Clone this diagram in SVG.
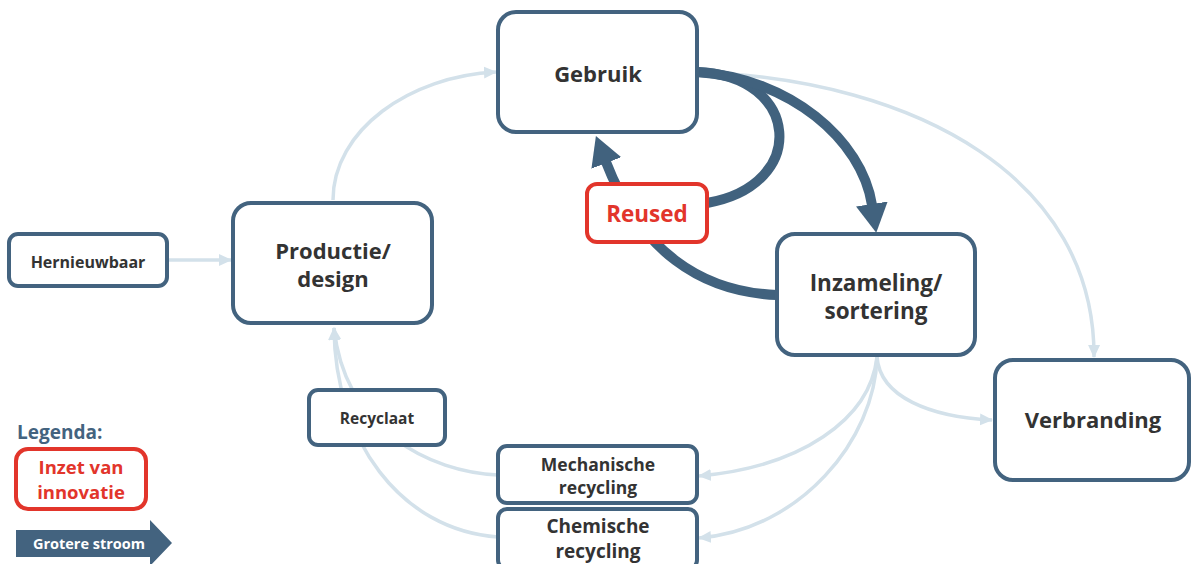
<svg xmlns="http://www.w3.org/2000/svg" width="1191" height="564" viewBox="0 0 1191 564">
<style>
.box{fill:#fff;stroke:#43637f;stroke-width:4}
.red{fill:#fff;stroke:#e2352b;stroke-width:4}
.t{font-family:"Open Sans","Liberation Sans",sans-serif;font-weight:bold;fill:#333;text-anchor:middle}
.rt{font-family:"Open Sans","Liberation Sans",sans-serif;font-weight:bold;fill:#e2352b;text-anchor:middle}
.lt{fill:none;stroke:#d3e1ea;stroke-width:3.5}
.dk{fill:none;stroke:#41627e;stroke-width:10}
</style>
<defs>
<marker id="la" markerUnits="userSpaceOnUse" markerWidth="14" markerHeight="14" viewBox="0 0 14 14" refX="12" refY="7" orient="auto"><path d="M0,1 L13,7 L0,13 Z" fill="#d3e1ea"/></marker>
<marker id="da" markerUnits="userSpaceOnUse" markerWidth="30" markerHeight="34" viewBox="0 0 30 34" refX="1" refY="17" orient="auto"><path d="M0,1 L29,17 L0,33 Z" fill="#41627e"/></marker>
</defs>
<g id="connectors">
<path class="lt" d="M167,260 L231,260" marker-end="url(#la)"/>
<path class="lt" d="M333,200 C 333,130 410,76 496,72" marker-end="url(#la)"/>
<path class="lt" d="M697,72 C 920,80 1095,180 1094,357" marker-end="url(#la)"/>
<path class="lt" d="M877,357 C 880,397 930,417 992,420" marker-end="url(#la)"/>
<path class="lt" d="M877,357 C 870,420 800,467 699,476" marker-end="url(#la)"/>
<path class="lt" d="M877,357 C 875,440 800,530 699,538" marker-end="url(#la)"/>
<path class="lt" d="M498,475 C 430,472 345,430 334,328" marker-end="url(#la)"/>
<path class="lt" d="M498,537 C 400,530 335,440 334,328" marker-end="url(#la)"/>
<path class="dk" d="M697,72 C 800,75 810,185 707,203"/>
<path class="dk" d="M697,72 C 790,78 862,140 872,205" marker-end="url(#da)"/>
<path class="dk" d="M777,295 C 700,292 640,250 606,162" marker-end="url(#da)"/>
</g>
<g id="gebruik"><rect class="box" x="498" y="12" width="199" height="120" rx="18"/><text class="t" x="598" y="82" font-size="22">Gebruik</text></g>
<g id="productie"><rect class="box" x="233" y="203" width="199" height="120" rx="18"/><text class="t" x="333" y="259" font-size="22">Productie/</text><text class="t" x="333" y="287" font-size="22">design</text></g>
<g id="hernieuwbaar"><rect class="box" x="9" y="234" width="158" height="52" rx="9"/><text class="t" x="88" y="268" font-size="16">Hernieuwbaar</text></g>
<g id="recyclaat"><rect class="box" x="309" y="390" width="136" height="55" rx="9"/><text class="t" x="377" y="424" font-size="15.5">Recyclaat</text></g>
<g id="inzameling"><rect class="box" x="777" y="234" width="198" height="121" rx="18"/><text class="t" x="876" y="291" font-size="22.5">Inzameling/</text><text class="t" x="876" y="319" font-size="22.5">sortering</text></g>
<g id="verbranding"><rect class="box" x="995" y="360" width="194" height="120" rx="18"/><text class="t" x="1093" y="428" font-size="22">Verbranding</text></g>
<g id="mechanische"><rect class="box" x="498" y="446" width="199" height="57" rx="9"/><text class="t" x="598" y="471" font-size="17.5">Mechanische</text><text class="t" x="598" y="494" font-size="17.5">recycling</text></g>
<g id="chemische"><rect class="box" x="498" y="509" width="199" height="60" rx="9"/><text class="t" x="598" y="533" font-size="19">Chemische</text><text class="t" x="598" y="558" font-size="19">recycling</text></g>
<g id="reused"><rect class="red" x="587" y="184" width="120" height="58" rx="10"/><text class="rt" x="647" y="222" font-size="22.5">Reused</text></g>
<g id="legenda">
<text x="17" y="439" font-family="Open Sans, Liberation Sans, sans-serif" font-weight="bold" font-size="19" fill="#43637f">Legenda:</text>
<rect class="red" x="16" y="449" width="130" height="60" rx="12"/>
<text class="rt" x="81" y="473.5" font-size="18.5">Inzet van</text>
<text class="rt" x="81" y="499" font-size="18.5">innovatie</text>
<path d="M16,530 L150,530 L150,520 L172,543 L150,566 L150,557 L16,557 Z" fill="#43637f"/>
<text x="89" y="549" font-family="Open Sans, Liberation Sans, sans-serif" font-weight="bold" font-size="14.5" fill="#fff" text-anchor="middle">Grotere stroom</text>
</g>
</svg>
